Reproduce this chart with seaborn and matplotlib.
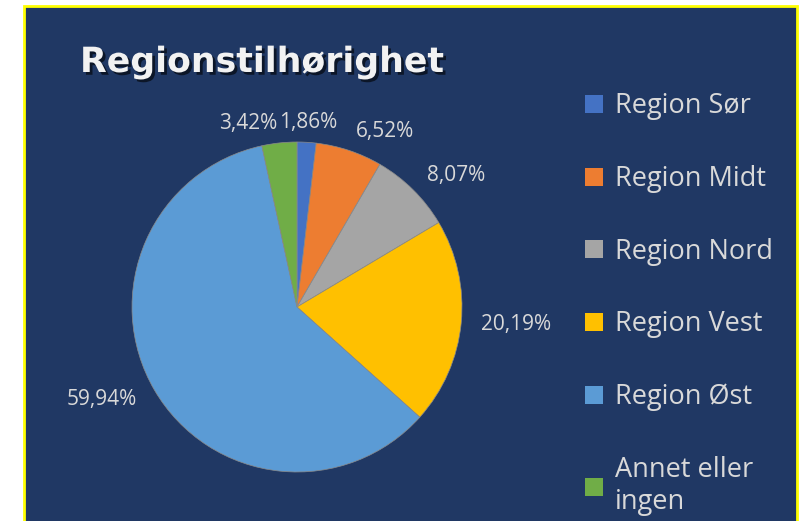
import matplotlib.pyplot as plt
import matplotlib.patheffects as pe
from matplotlib.patches import Rectangle
import seaborn as sns

regions = ["Region Sør", "Region Midt", "Region Nord", "Region Vest", "Region Øst", "Annet eller\ningen"]
shares = [1.86, 6.52, 8.07, 20.19, 59.94, 3.42]
colors = ["#4472C4", "#ED7D31", "#A5A5A5", "#FFC000", "#5B9BD5", "#70AD47"]

sns.set_theme(style="white")
plt.rcParams["font.family"] = ["Open Sans", "DejaVu Sans"]

navy = "#203864"
txt = "#d9d9d9"

fig = plt.figure(figsize=(8.03, 5.21), dpi=100)
fig.patch.set_facecolor("white")
# dark panel with yellow frame
fig.add_artist(Rectangle((24 / 803, -0.05), 773 / 803, 1 - 6 / 521 + 0.05,
                         transform=fig.transFigure, facecolor=navy,
                         edgecolor="#ffff00", linewidth=2, zorder=-5))

ax = fig.add_axes([(297 - 165) / 803, 1 - (307 + 165) / 521, 330 / 803, 330 / 521])
ax.set_facecolor("none")
labels = [f"{v:.2f}%".replace(".", ",") for v in shares]
wedges, texts = ax.pie(shares, colors=colors, startangle=90, counterclock=False,
                       labels=labels, labeldistance=1.12,
                       wedgeprops=dict(edgecolor="#8a8a8a", linewidth=0.5),
                       textprops=dict(color=txt, fontsize=15))
# label right at the top sits centred so it doesn't run into the next one
for t in texts:
    x, y = t.get_position()
    if 0 < x < 0.15:
        t.set_ha("center")
ax.set_xlim(-1, 1)
ax.set_ylim(-1, 1)
ax.set_aspect("equal")

fig.text(80 / 803, 1 - 62 / 521, "Regionstilhørighet", color="#f2f2f2",
         fontsize=25, fontweight="bold", va="center", ha="left", family="DejaVu Sans",
         path_effects=[pe.withSimplePatchShadow(offset=(2, -2), alpha=0.6, shadow_rgbFace="black")])

leg = fig.legend(wedges, regions, loc="upper left",
                 bbox_to_anchor=(561 / 803, 1 - 68 / 521), frameon=False,
                 fontsize=19.5, labelcolor=txt, handlelength=0.65, handleheight=0.65,
                 handletextpad=0.45, labelspacing=1.65)
for h in leg.legend_handles:
    h.set_edgecolor("none")

fig.savefig("out.png", dpi=100)
